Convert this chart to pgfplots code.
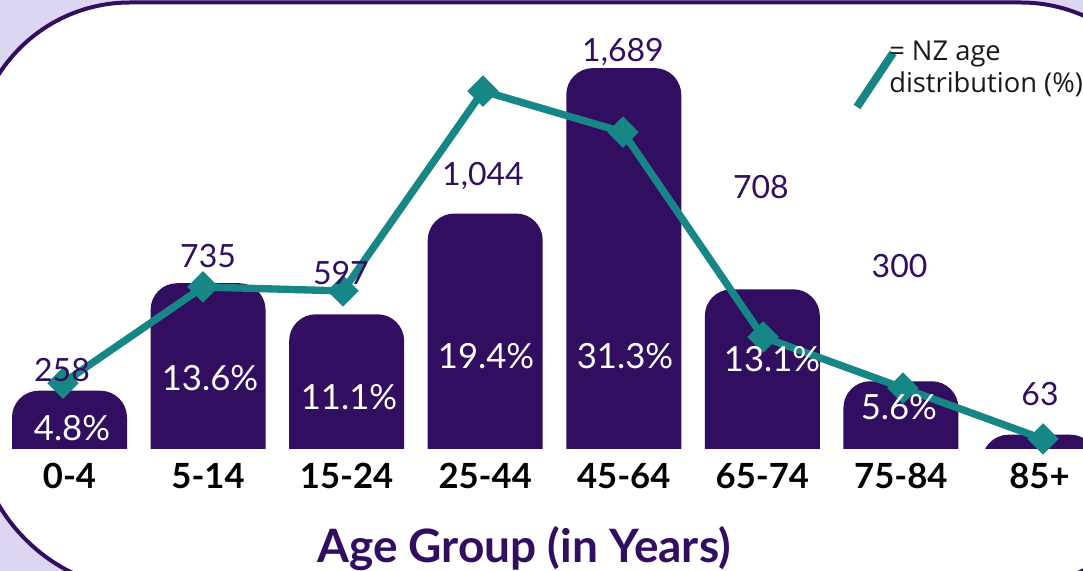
\documentclass[border=0pt]{standalone}
\usepackage{fontspec}
\setmainfont{Lato}
\newfontfamily\legfont{Open Sans}
\usepackage{pgfplots}
\pgfplotsset{compat=1.18}

\definecolor{barpurple}{RGB}{50,14,96}
\definecolor{linecol}{RGB}{22,134,134}
\definecolor{lavender}{RGB}{220,214,242}

\tikzset{
  val/.style={font=\fontsize{24}{28}\selectfont, text=barpurple},
  pct/.style={font=\fontsize{26}{30}\selectfont, text=white},
}
% common geometry: 1 px = 0.75pt, axis box covers px rows 0..449
\pgfplotsset{
  chartbox/.style={at={(0pt,91.5pt)}, anchor=south west, scale only axis,
    width=812.25pt, height=336.75pt},
}

\begin{document}
\begin{tikzpicture}
% frame
\begin{scope}[x=0.75pt,y=0.75pt]
  \clip (0,0) rectangle (1083,571);
  \fill[lavender] (0,0) rectangle (1083,571);
  \filldraw[fill=white, draw=barpurple, line width=3pt]
    (-25.7,155.3) -- (-25.7,412.8) arc[start angle=180, end angle=90, radius=155.7]
    -- (1020.7,568.5) arc[start angle=90, end angle=0, radius=155.7]
    -- (1176.4,155.3) arc[start angle=0, end angle=-90, radius=175]
    -- (149.3,-19.7) arc[start angle=270, end angle=180, radius=175] -- cycle;
\end{scope}

% bars: base lifted by 200 and cut at the baseline, so only the tops are rounded
\begin{scope}
  \clip (0pt,91.5pt) rectangle (812.25pt,428.25pt);
  \begin{axis}[at={(0pt,57.75pt)}, anchor=south west, scale only axis,
      width=812.25pt, height=370.5pt,
      xmin=-0.5016, xmax=7.314, ymin=0, ymax=2191, hide axis]
    \addplot[ybar, bar width=0.83, fill=barpurple, draw=none, rounded corners=20pt,
      y filter/.expression={y+200}]
      coordinates {(0,258)(1,735)(2,597)(3,1044)(4,1689)(5,708)(6,300)(7,63)};
  \end{axis}
\end{scope}

% NZ age distribution (%)
\begin{axis}[chartbox, xmin=-0.45, xmax=7.2857, ymin=0, ymax=35, hide axis, clip=false]
  \addplot[linecol, line width=5.5pt, mark=square*, mark size=5.6pt,
    mark options={rotate=45, solid}]
    coordinates {(0,5.14)(1,12.63)(2,12.32)(3,27.9)(4,24.7)(5,8.73)(6,4.75)(7,0.78)};
\end{axis}

% ticks, axis title and value labels
\begin{axis}[chartbox, xmin=-0.5016, xmax=7.314, ymin=0, ymax=1991, clip=false,
    axis line style={draw=none}, major tick length=0pt, ytick=\empty,
    xtick={0,...,7},
    xticklabels={0-4,5-14,15-24,25-44,45-64,65-74,75-84,85+},
    xticklabel style={anchor=center, yshift=-20.25pt,
      font=\fontsize{26}{30}\selectfont\bfseries, text=black},
    xlabel={Age Group (in Years)},
    xlabel style={at={(axis description cs:0.4838,-0.2227)}, anchor=center,
      font=\fontsize{34.5}{40}\selectfont\bfseries, text=barpurple}]
  \node[val] at (axis cs:-0.054,350) {258};
  \node[val] at (axis cs:1.0,856) {735};
  \node[val] at (axis cs:1.959,781) {597};
  \node[val] at (axis cs:2.984,1211) {1,044};
  \node[val] at (axis cs:3.994,1761) {1,689};
  \node[val] at (axis cs:4.99,1162) {708};
  \node[val] at (axis cs:5.99,812) {300};
  \node[val] at (axis cs:7.004,244) {63};
  \node[pct] at (axis cs:0.018,93) {4.8\%};
  \node[pct] at (axis cs:1.014,315) {13.6\%};
  \node[pct] at (axis cs:2.017,231) {11.1\%};
  \node[pct] at (axis cs:3.006,412) {19.4\%};
  \node[pct] at (axis cs:4.009,412) {31.3\%};
  \node[pct] at (axis cs:5.07,399) {13.1\%};
  \node[pct] at (axis cs:5.985,186) {5.6\%};
\end{axis}

% legend
\begin{scope}[x=0.75pt,y=0.75pt]
  \draw[linecol, line width=6pt] (857,464) -- (893,518);
  \node[anchor=west, align=left, inner sep=0pt, text=black!90,
    font=\legfont\fontsize{20.5}{24}\selectfont] at (889,502) {= NZ age\\distribution (\%)};
\end{scope}

\pgfresetboundingbox
\path (0pt,0pt) rectangle (812.25pt,428.25pt);
\end{tikzpicture}
\end{document}
